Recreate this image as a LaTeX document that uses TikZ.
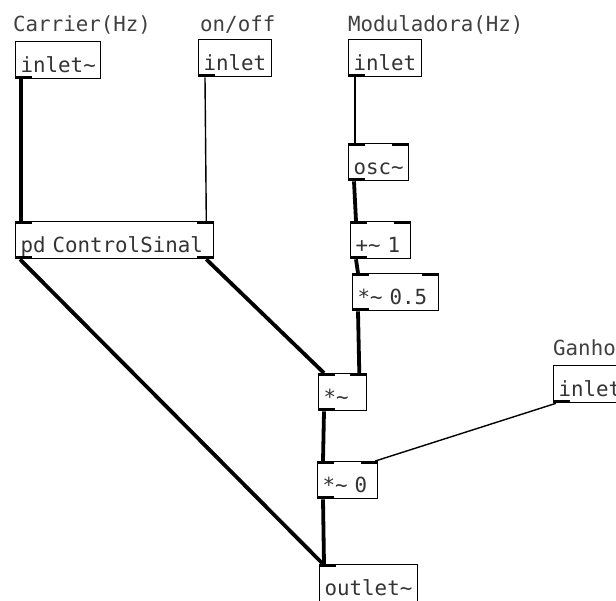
\documentclass[tikz,border=0pt]{standalone}
\usepackage{fontspec}
\setmonofont{DejaVu Sans Mono}
\tikzset{
  obj/.style={draw, line width=1.3pt, anchor=north west, font=\pdfont, text=black!80,
    inner xsep=5pt, inner ysep=0pt, text height=31pt, text depth=6pt, align=left},
  note/.style={anchor=base west, inner sep=0pt, font=\pdfont, text=black!75},
  sig/.style={line width=3.8pt},
  ctl/.style={line width=1.4pt}
}
\newcommand{\pdfont}{\ttfamily\fontsize{20.8}{21}\selectfont}
\begin{document}
\begin{tikzpicture}[x=1pt,y=-1pt]
\clip (0,0) rectangle (616,600);
\fill[white] (0,0) rectangle (616,600);

% comments
\node[note] (tcar) at (13,31) {Carrier(Hz)};
\node[note] (tonf) at (200,31) {on/off};
\node[note] (tmod) at (348,31) {Moduladora(Hz)};
\node[note] (tgan) at (553,355) {Ganho};

% boxes
\node[obj,text width=75pt] (cin) at (15,41) {inlet\char`~};
\node[obj,text width=63pt] (onoff) at (198,39) {inlet};
\node[obj,text width=63pt] (mod) at (348,39) {inlet};
\node[obj,text width=188pt] (ctrl) at (15,221) {pd ControlSinal};
\node[obj,text width=50pt] (osc) at (348,143) {osc\char`~};
\node[obj,text width=50pt] (add) at (350,221) {+\char`~{} 1};
\node[obj,text width=76pt] (mul) at (352,273) {*\char`~{} 0.5};
\node[obj,text width=38pt] (ring) at (318,373) {*\char`~};
\node[obj,text width=63pt] (gan) at (553,365) {inlet};
\node[obj,text width=50pt] (gain) at (317,461) {*\char`~{} 0};
\node[obj,text width=88pt] (out) at (319,564) {outlet\char`~};

% outlets and inlets
\foreach \b in {cin,onoff,mod,ctrl,osc,add,mul,ring,gan,gain}
  \fill (\b.south west) rectangle ++(17,-3);
\fill (ctrl.south east) rectangle ++(-17,-3);
\foreach \b in {ctrl,osc,add,mul,ring,gain,out}
  \fill (\b.north west) rectangle ++(17,3);
\foreach \b in {ctrl,osc,add,mul,ring,gain}
  \fill (\b.north east) rectangle ++(-17,3);

% connections
\draw[sig] ([xshift=6pt]cin.south west) -- ([xshift=6pt]ctrl.north west);
\draw[ctl] ([xshift=7pt]onoff.south west) -- ([xshift=-8pt]ctrl.north east);
\draw[ctl] ([xshift=7pt]mod.south west) -- ([xshift=7pt]osc.north west);
\draw[sig] ([xshift=6pt]osc.south west) -- ([xshift=6pt]add.north west);
\draw[sig] ([xshift=6pt]add.south west) -- ([xshift=6pt]mul.north west);
\draw[sig] ([xshift=6pt]mul.south west) -- ([xshift=-8pt]ring.north east);
\draw[sig] ([xshift=-8pt]ctrl.south east) -- ([xshift=6pt]ring.north west);
\draw[sig] ([xshift=5pt]ctrl.south west) -- ([xshift=4pt]out.north west);
\draw[sig] ([xshift=6pt]ring.south west) -- ([xshift=6pt]gain.north west);
\draw[sig] ([xshift=6pt]gain.south west) -- ([xshift=5pt]out.north west);
\draw[ctl] ([xshift=3pt]gan.south west) -- ([xshift=-3pt]gain.north east);
\end{tikzpicture}
\end{document}
